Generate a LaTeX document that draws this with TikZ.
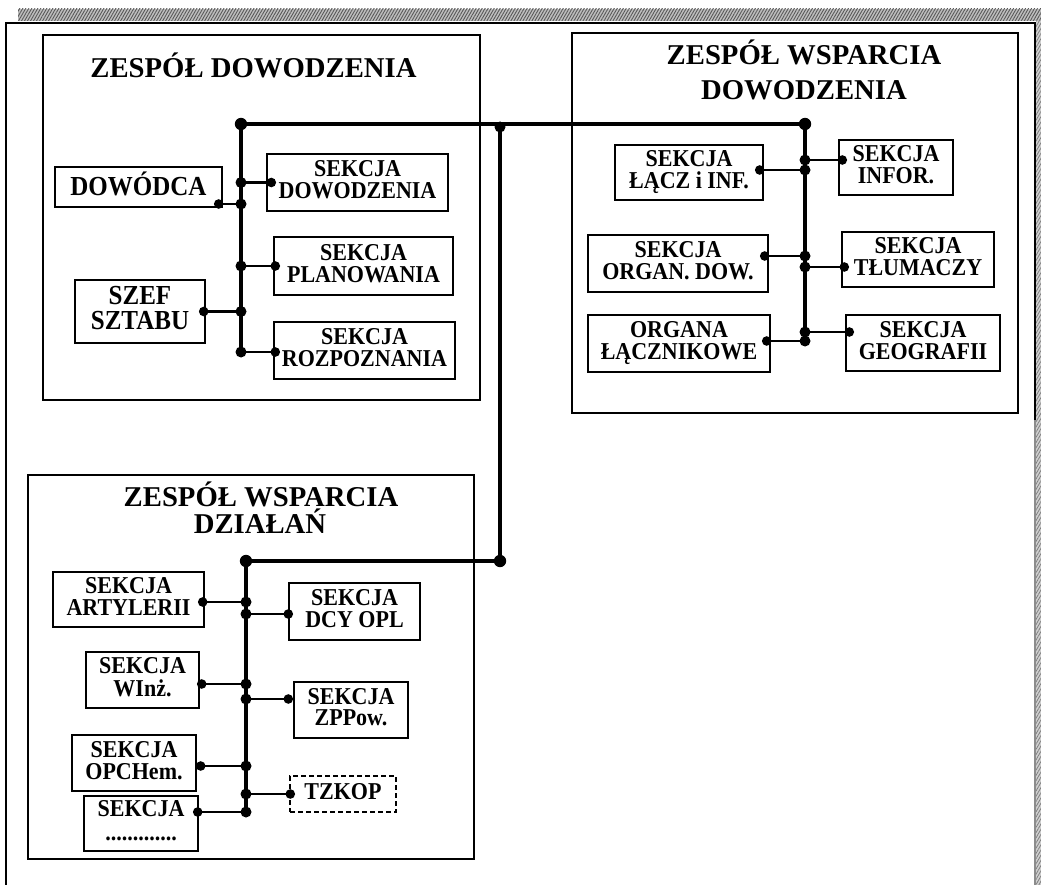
\documentclass[tikz,border=0pt]{standalone}
\usepackage{fontspec}
\setmainfont{Liberation Serif}
\usetikzlibrary{patterns.meta}
\newcommand\ttlfont{\fontsize{28.7}{30}\selectfont\bfseries}
\newcommand\lblfont{\fontsize{22}{18}\selectfont\bfseries}
\newcommand\bigfont{\fontsize{25}{20}\selectfont\bfseries}
\newcommand\tx[1]{\scalebox{1}[1.1]{\begin{tabular}{@{}c@{}}#1\end{tabular}}}
\newcommand\conn[3]{%
  \coordinate (e#1) at (#2);
  \draw[branch] (e#1) -- (e#1 -| #3);
  \fill (e#1) circle (4.8pt);
  \fill (e#1 -| #3) circle (5.5pt);}
\begin{document}
\begin{tikzpicture}[x=1pt,y=-1pt,
  frame/.style={line width=1.8pt},
  group/.style={draw, line width=1.4pt, inner sep=0pt},
  box/.style={draw, line width=1.4pt, inner sep=0pt, align=center, font=\lblfont},
  ttl/.style={inner sep=0pt, font=\ttlfont, anchor=base},
  mainline/.style={line width=3.8pt},
  bus/.style={line width=3.2pt},
  branch/.style={line width=2.2pt},
]
\useasboundingbox (0,0) rectangle (1041,885);
\fill[white] (0,0) rectangle (1041,885);
% hatched edges
\fill[black!25] (18,9) rectangle (1041,21);
\fill[pattern={Lines[angle=60,distance=2.6pt,line width=0.9pt]}, pattern color=black!65] (18,9) rectangle (1041,21);
\fill[black!18] (1036,21) rectangle (1041,885);
\fill[pattern={Lines[angle=60,distance=2.6pt,line width=0.8pt]}, pattern color=black!50] (1036,21) rectangle (1041,885);
% outer frame
\draw[frame] (6,885) -- (6,23) -- (1035,23) -- (1035,420);
\draw[line width=1.2pt, black!45] (1035,420) -- (1035,885);

% group boxes
\node[group, minimum width=437pt, minimum height=365pt] (g1) at (261.5,217.5) {};
\node[group, minimum width=446pt, minimum height=380pt] (g2) at (795,223) {};
\node[group, minimum width=446pt, minimum height=384pt] (g3) at (251,667) {};

% titles
\node[ttl] (t1) at (253.5,78) {ZESPÓŁ DOWODZENIA};
\node[ttl] (t2a) at (804,65) {ZESPÓŁ WSPARCIA};
\node[ttl] (t2b) at (804,100) {DOWODZENIA};
\node[ttl] (t3a) at (261,506) {ZESPÓŁ WSPARCIA};
\node[ttl] (t3b) at (260,533) {DZIAŁAŃ};

% group 1 boxes
\node[box, font=\bigfont, minimum width=167pt, minimum height=40pt] (dowodca) at (138.5,187) {\tx{DOWÓDCA}};
\node[box, font=\bigfont, minimum width=130pt, minimum height=63pt] (szef) at (140,311.5) {\tx{SZEF\\SZTABU}};
\node[box, minimum width=181pt, minimum height=57pt] (sdow) at (357.5,182.5) {\tx{SEKCJA\\DOWODZENIA}};
\node[box, minimum width=179pt, minimum height=58pt] (splan) at (363.5,266) {\tx{SEKCJA\\PLANOWANIA}};
\node[box, minimum width=181pt, minimum height=57pt] (sroz) at (364.5,350.5) {\tx{SEKCJA\\ROZPOZNANIA}};

% group 2 boxes
\node[box, minimum width=148pt, minimum height=55pt] (slacz) at (689,172.5) {\tx{SEKCJA\\ŁĄCZ i INF.}};
\node[box, minimum width=114pt, minimum height=55pt] (sinfor) at (896,167.5) {\tx{SEKCJA\\INFOR.}};
\node[box, minimum width=180pt, minimum height=57pt] (sorg) at (678,263.5) {\tx{SEKCJA\\ORGAN. DOW.}};
\node[box, minimum width=152pt, minimum height=55pt] (stlum) at (918,259.5) {\tx{SEKCJA\\TŁUMACZY}};
\node[box, minimum width=182pt, minimum height=57pt] (organa) at (679,343.5) {\tx{ORGANA\\ŁĄCZNIKOWE}};
\node[box, minimum width=154pt, minimum height=56pt] (sgeo) at (923,343) {\tx{SEKCJA\\GEOGRAFII}};

% group 3 boxes
\node[box, minimum width=151pt, minimum height=55pt] (sart) at (128.5,599.5) {\tx{SEKCJA\\ARTYLERII}};
\node[box, minimum width=131pt, minimum height=57pt] (sdcy) at (354.5,611.5) {\tx{SEKCJA\\DCY OPL}};
\node[box, minimum width=113pt, minimum height=56pt] (swinz) at (142.5,680) {\tx{SEKCJA\\WInż.}};
\node[box, minimum width=114pt, minimum height=56pt] (szpp) at (351,710) {\tx{SEKCJA\\ZPPow.}};
\node[box, minimum width=124pt, minimum height=56pt] (sopc) at (134,763) {\tx{SEKCJA\\OPCHem.}};
\node[box, dashed, dash pattern=on 5pt off 3pt, minimum width=106pt, minimum height=36pt] (tzkop) at (343,794) {\tx{TZKOP}};
\node[box, minimum width=114pt, minimum height=55pt] (sdots) at (141,823.5) {\tx{SEKCJA\\[3pt].............}};

% bus coordinates
\coordinate (b1top) at (241,124);
\coordinate (b1bot) at (241,352);
\coordinate (b2top) at (805,124);
\coordinate (b2bot) at (805,344);
\coordinate (trtop) at (500,124);
\coordinate (trbot) at (500,561);
\coordinate (b3top) at (246,561);
\coordinate (b3bot) at (246,812);

\draw[mainline] (b1top) -- (b2top);
\draw[mainline] (trtop) -- (trbot) -- (b3top);
\draw[bus] (b1top) -- (b1bot);
\draw[bus] (b2top) -- (b2bot);
\draw[bus] (b3top) -- (b3bot);
\fill (b1top) circle (6.2pt);
\fill (b2top) circle (6.2pt);
\fill ([yshift=-3pt]trtop) circle (5.5pt);
\fill (trbot) circle (6.2pt);
\fill (b3top) circle (6.2pt);

% branches group 1
\conn{dowodca}{[xshift=-4pt,yshift=-17pt]dowodca.east}{b1top}
\conn{sdow}{[xshift=5pt]sdow.west}{b1top}
\conn{splan}{[xshift=2pt]splan.west}{b1top}
\conn{szef}{[xshift=-2pt]szef.east}{b1top}
\conn{sroz}{[xshift=2pt,yshift=-1.5pt]sroz.west}{b1top}
% branches group 2
\conn{sinfor}{[xshift=4pt,yshift=7.5pt]sinfor.west}{b2top}
\conn{slacz}{[xshift=-4pt,yshift=2.5pt]slacz.east}{b2top}
\conn{sorg}{[xshift=-4pt,yshift=7.5pt]sorg.east}{b2top}
\conn{stlum}{[xshift=3pt,yshift=-7.5pt]stlum.west}{b2top}
\conn{sgeo}{[xshift=4pt,yshift=11pt]sgeo.west}{b2top}
\conn{organa}{[xshift=-4pt,yshift=2.5pt]organa.east}{b2top}
% branches group 3
\conn{sart}{[xshift=-2pt,yshift=-2.5pt]sart.east}{b3top}
\conn{sdcy}{[yshift=-2.5pt]sdcy.west}{b3top}
\conn{swinz}{[xshift=2pt,yshift=-4pt]swinz.east}{b3top}
\conn{szpp}{[xshift=-5pt,yshift=11pt]szpp.west}{b3top}
\conn{sopc}{[xshift=4pt,yshift=-3pt]sopc.east}{b3top}
\conn{tzkop}{[xshift=1pt]tzkop.west}{b3top}
\conn{sdots}{[xshift=-1pt,yshift=11.5pt]sdots.east}{b3top}
\end{tikzpicture}
\end{document}
